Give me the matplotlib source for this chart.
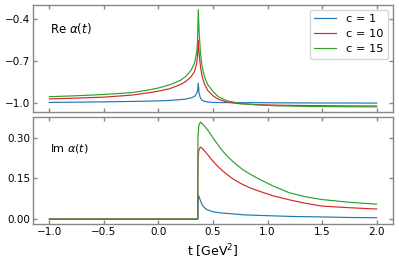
import matplotlib
matplotlib.use("Agg")
import matplotlib.pyplot as plt

# ---- data ----
labels = ["c = 1", "c = 10", "c = 15"]
colors = ["#1f77b4", "#d62728", "#2ca02c"]

t_re = [-1.0, -0.75, -0.5, -0.25, -0.1, 0.0, 0.1, 0.2, 0.25, 0.3, 0.33, 0.35,
        0.358, 0.365, 0.372, 0.385, 0.4, 0.42, 0.45, 0.5, 0.55, 0.63, 0.75,
        0.9, 1.1, 1.4, 1.7, 2.0]
re_c1 = [-0.998, -0.996, -0.994, -0.991, -0.989, -0.987, -0.984, -0.978, -0.974,
         -0.965, -0.955, -0.935, -0.915, -0.860, -0.930, -0.968, -0.982, -0.990,
         -0.995, -0.998, -0.999, -0.999, -1.000, -1.000, -1.001, -1.002, -1.002, -1.003]
re_c10 = [-0.973, -0.967, -0.960, -0.946, -0.930, -0.917, -0.900, -0.870, -0.848,
          -0.812, -0.777, -0.720, -0.660, -0.550, -0.640, -0.740, -0.810, -0.862,
          -0.910, -0.950, -0.976, -0.996, -1.008, -1.014, -1.018, -1.021, -1.023, -1.024]
re_c15 = [-0.957, -0.950, -0.941, -0.928, -0.910, -0.894, -0.872, -0.840, -0.812,
          -0.765, -0.717, -0.640, -0.560, -0.330, -0.480, -0.640, -0.740, -0.808,
          -0.868, -0.920, -0.958, -0.987, -1.005, -1.016, -1.023, -1.027, -1.029, -1.030]

t_im = [-1.0, -0.5, 0.0, 0.3, 0.36, 0.362, 0.37, 0.385, 0.4, 0.42, 0.437, 0.45,
        0.5, 0.55, 0.59, 0.63, 0.68, 0.72, 0.77, 0.83, 0.9, 1.05, 1.2, 1.35,
        1.5, 1.75, 2.0]
im_c1 = [0.0, 0.0, 0.0, 0.0, 0.0, 0.070, 0.085, 0.068, 0.053, 0.043, 0.037, 0.034,
         0.027, 0.024, 0.022, 0.021, 0.019, 0.018, 0.016, 0.015, 0.014, 0.012,
         0.010, 0.009, 0.008, 0.006, 0.005]
im_c10 = [0.0, 0.0, 0.0, 0.0, 0.0, 0.220, 0.255, 0.265, 0.261, 0.252, 0.244, 0.238,
          0.213, 0.192, 0.177, 0.164, 0.149, 0.139, 0.128, 0.117, 0.106, 0.086,
          0.071, 0.058, 0.048, 0.042, 0.037]
im_c15 = [0.0, 0.0, 0.0, 0.0, 0.0, 0.300, 0.345, 0.357, 0.352, 0.344, 0.335, 0.329,
          0.299, 0.271, 0.250, 0.232, 0.213, 0.199, 0.183, 0.168, 0.152, 0.122,
          0.097, 0.082, 0.072, 0.062, 0.055]

xticks = [-1.0, -0.5, 0.0, 0.5, 1.0, 1.5, 2.0]
re_ticks = [-1.0, -0.7, -0.4]
im_ticks = [0.00, 0.15, 0.30]

# ---- figure ----
W, H = 399, 266
fig = plt.figure(figsize=(W / 100, H / 100), dpi=100)
left, right = 33 / W, 393 / W
ax1 = fig.add_axes([left, 1 - 112 / H, right - left, 107 / H])
ax2 = fig.add_axes([left, 1 - 224 / H, right - left, 107 / H])

spine_col = "#888888"
for ax in (ax1, ax2):
    for s in ax.spines.values():
        s.set_color(spine_col)
        s.set_linewidth(1.0)
    ax.tick_params(direction="in", top=True, right=True, length=3, width=1,
                   color=spine_col, labelsize=7.5, pad=2)
    ax.set_xlim(-1.15, 2.15)
    ax.set_xticks(xticks)

for vals, lab, col in zip([re_c1, re_c10, re_c15], labels, colors):
    ax1.plot(t_re, vals, color=col, lw=0.85, label=lab)
for vals, col in zip([im_c1, im_c10, im_c15], colors):
    ax2.plot(t_im, vals, color=col, lw=0.85)

ax1.set_ylim(-1.067, -0.297)
ax1.set_yticks(re_ticks)
ax1.set_yticklabels(["\u22121.0", "\u22120.7", "\u22120.4"])
ax1.tick_params(labelbottom=False)
ax2.set_ylim(-0.018, 0.376)
ax2.set_yticks(im_ticks)
ax2.set_yticklabels(["0.00", "0.15", "0.30"])

ax1.text(0.047, 0.78, r"Re $\alpha(t)$", transform=ax1.transAxes, fontsize=8.5,
         va="center", ha="left")
ax2.text(0.047, 0.71, r"Im $\alpha(t)$", transform=ax2.transAxes, fontsize=8,
         va="center", ha="left")

ax1.legend(loc="upper right", fontsize=8.2, handlelength=1.9, borderpad=0.4,
           labelspacing=0.45, handletextpad=0.9, borderaxespad=0.4)
ax2.set_xlabel(r"t [GeV$^2$]", fontsize=9, labelpad=4)

fig.savefig("out.png", dpi=100)
